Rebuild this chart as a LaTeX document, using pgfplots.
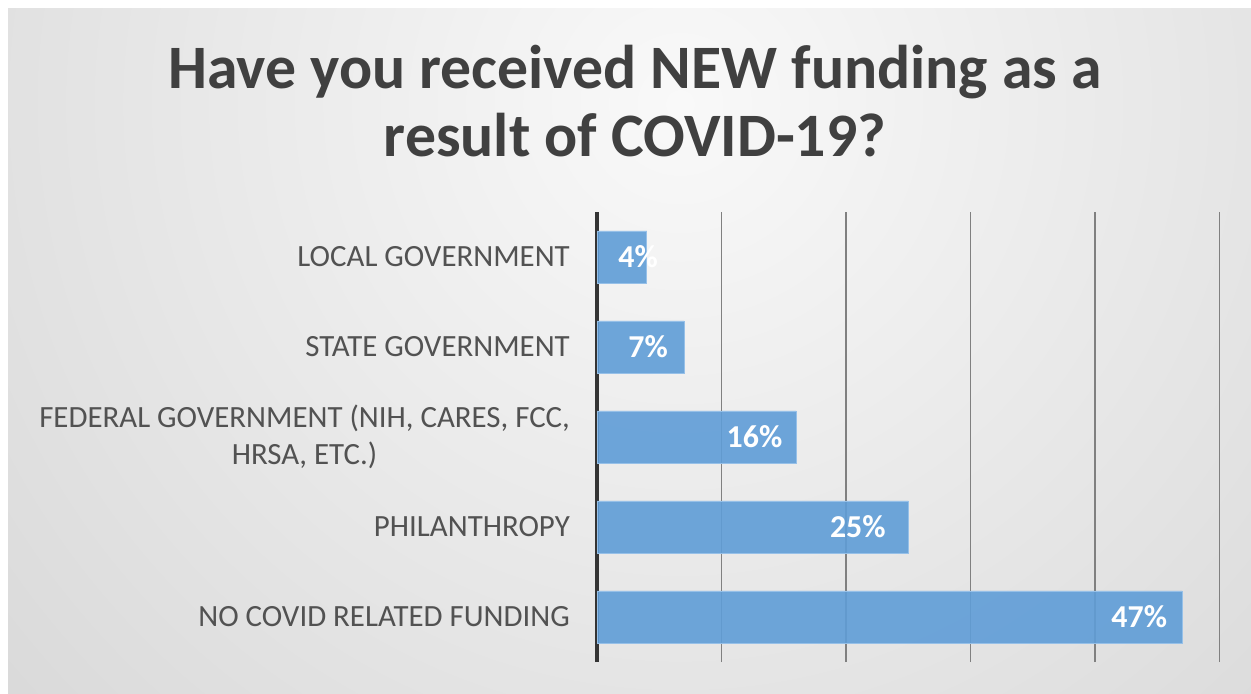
\documentclass[border=0pt]{standalone}
\usepackage{pgfplots}
\pgfplotsset{compat=1.18}
\usepackage{fontspec}
\setmainfont{Carlito}
\definecolor{barblue}{RGB}{95,157,215}
\definecolor{baredge}{RGB}{150,192,232}
\definecolor{titlegray}{RGB}{64,64,64}
\definecolor{labelgray}{RGB}{82,82,82}
\definecolor{gridgray}{RGB}{128,128,128}
\definecolor{axisdark}{RGB}{52,52,52}
\definecolor{bginner}{RGB}{249,249,249}
\definecolor{bgouter}{RGB}{186,186,186}
\begin{document}
\begin{tikzpicture}
\useasboundingbox (0bp,0bp) rectangle (1251bp,694bp);
\fill[white] (0bp,0bp) rectangle (1251bp,694bp);
\begin{scope}
\clip (8bp,0bp) rectangle (1251bp,685bp);
\shade[inner color=bginner, outer color=bgouter] (680bp,590bp) circle (1800bp);
\end{scope}
\node[anchor=base, inner sep=0pt, font=\bfseries\fontsize{62}{74}\selectfont, text=titlegray] at (635bp,605bp) {Have you received NEW funding as a};
\node[anchor=base, inner sep=0pt, font=\bfseries\fontsize{62}{74}\selectfont, text=titlegray] at (635bp,537bp) {result of COVID-19?};
\begin{axis}[
  at={(597bp,32bp)}, anchor=south west,
  scale only axis, width=622.5bp, height=450bp,
  xmin=0, xmax=50, ymin=-0.5, ymax=4.5,
  axis lines*=left,
  x axis line style={draw=none},
  y axis line style={draw=axisdark, line width=3bp},
  xtick={0,10,20,30,40,50}, xticklabels={},
  xmajorgrids, grid style={draw=gridgray, line width=1.3bp},
  major tick length=0pt,
  ytick={0,1,2,3,4},
  yticklabels={NO COVID RELATED FUNDING, PHILANTHROPY, {FEDERAL GOVERNMENT (NIH, CARES, FCC,\\HRSA, ETC.)}, STATE GOVERNMENT, LOCAL GOVERNMENT},
  yticklabel style={align=center, inner sep=0pt, xshift=-27bp, text=labelgray, font=\fontsize{31}{37}\selectfont},
  clip=false,
]
\addplot[xbar, bar width=52bp, fill=barblue, fill opacity=0.9, draw=baredge, line width=0.8bp] coordinates {(47,0) (25,1) (16,2) (7,3) (4,4)};
\addplot[draw=none, mark=none, nodes near coords, point meta=explicit symbolic,
  nodes near coords style={anchor=east, inner sep=0pt, text=white, font=\bfseries\fontsize{32}{38}\selectfont}]
  coordinates {(45.8,0)[47\%] (23.2,1)[25\%] (14.9,2)[16\%] (5.7,3)[7\%] (4.9,4)[4\%]};
\end{axis}
\end{tikzpicture}
\end{document}
